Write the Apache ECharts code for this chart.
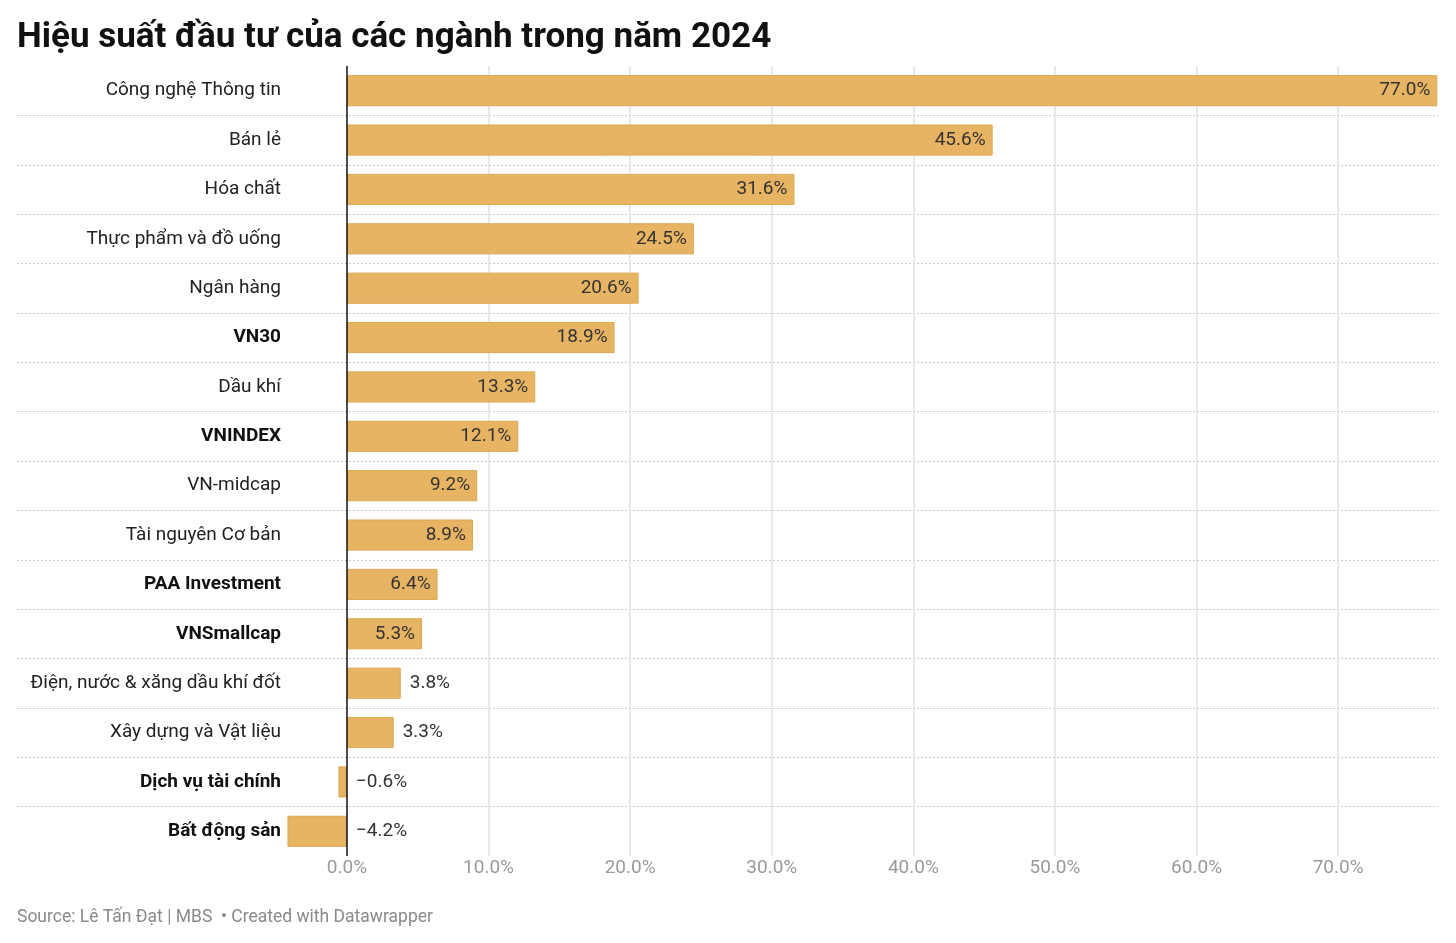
<!DOCTYPE html>
<html>
<head>
<meta charset="utf-8">
<script src="https://cdn.jsdelivr.net/npm/echarts@6/dist/echarts.min.js"></script>
<style>
  html, body { margin: 0; padding: 0; background: #fff; }
  #chart { width: 1456px; height: 943px; }
</style>
</head>
<body>
<div id="chart"></div>
<script>
// ngành / chỉ số
var categories = [
  'Công nghệ Thông tin',
  'Bán lẻ',
  'Hóa chất',
  'Thực phẩm và đồ uống',
  'Ngân hàng',
  'VN30',
  'Dầu khí',
  'VNINDEX',
  'VN-midcap',
  'Tài nguyên Cơ bản',
  'PAA Investment',
  'VNSmallcap',
  'Điện, nước & xăng dầu khí đốt',
  'Xây dựng và Vật liệu',
  'Dịch vụ tài chính',
  'Bất động sản'
];
// hiệu suất (%)
var values = [77.0, 45.6, 31.6, 24.5, 20.6, 18.9, 13.3, 12.1, 9.2, 8.9, 6.4, 5.3, 3.8, 3.3, -0.6, -4.2];
// nhãn in đậm
var boldCategories = ['VN30', 'VNINDEX', 'PAA Investment', 'VNSmallcap', 'Dịch vụ tài chính', 'Bất động sản'];
// vạch trục x
var xTicks = [0, 10, 20, 30, 40, 50, 60, 70];

var barColor = '#e6b462';
var font = 'Roboto';

function fmtPct(v) {
  var s = Math.abs(v).toFixed(1) + '%';
  return v < 0 ? '\u2212' + s : s;
}

var chart = echarts.init(document.getElementById('chart'), null, { renderer: 'canvas' });

var barData = values.map(function (v) {
  var inside = v >= 5;
  return {
    value: v,
    label: {
      position: inside ? 'insideRight' : 'right',
      distance: inside ? 7 : 9
    }
  };
});

var option = {
  backgroundColor: '#fff',
  animation: false,
  textStyle: { fontFamily: font },
  title: [
    {
      text: 'Hiệu suất đầu tư của các ngành trong năm 2024',
      left: 12,
      top: 16,
      textStyle: { fontFamily: font, fontSize: 35, fontWeight: 'bold', color: '#111' }
    },
    {
      text: 'Source: Lê Tấn Đạt | MBS  • Created with Datawrapper',
      left: 12,
      top: 904,
      textStyle: { fontFamily: font, fontSize: 17.5, fontWeight: 'normal', color: '#8a8a8a' }
    }
  ],
  grid: { left: 17, right: 18, top: 66, bottom: 87, containLabel: false },
  xAxis: {
    type: 'value',
    min: -23.3,
    max: 77.05,
    axisLine: { show: false },
    axisTick: { show: false },
    splitLine: { show: false },
    axisLabel: {
      customValues: xTicks,
      formatter: function (v) { return v.toFixed(1) + '%'; },
      color: '#9a9a9a',
      fontSize: 19,
      fontFamily: font,
      margin: 3
    }
  },
  yAxis: {
    type: 'category',
    inverse: true,
    data: categories,
    axisLine: { show: false },
    axisTick: { show: false },
    splitLine: {
      show: true,
      showMinLine: false,
      showMaxLine: false,
      lineStyle: { color: '#c8c8c8', type: [2, 2], width: 1 }
    },
    axisLabel: {
      inside: true,
      align: 'right',
      margin: 264,
      fontSize: 19,
      fontFamily: font,
      color: '#222',
      formatter: function (v) {
        return boldCategories.indexOf(v) >= 0 ? '{b|' + v + '}' : v;
      },
      rich: {
        b: { fontWeight: 'bold', fontSize: 19, fontFamily: font, color: '#111' }
      }
    }
  },
  series: [
    {
      // lưới dọc
      type: 'bar',
      data: [],
      z: 0,
      silent: true,
      markLine: {
        silent: true,
        symbol: 'none',
        z: 0,
        label: { show: false },
        lineStyle: { color: '#e2e2e2', type: 'solid', width: 1.5 },
        data: xTicks.filter(function (t) { return t > 0; }).map(function (t) { return { xAxis: t }; })
      }
    },
    {
      type: 'bar',
      data: barData,
      barWidth: '63%',
      barGap: '-100%',
      z: 2,
      itemStyle: { color: barColor, borderColor: '#dca750', borderWidth: 1 },
      label: {
        show: true,
        fontSize: 19,
        fontFamily: font,
        color: '#333',
        formatter: function (p) { return fmtPct(p.value); }
      },
      markLine: {
        silent: true,
        symbol: 'none',
        z: 5,
        label: { show: false },
        lineStyle: { color: '#111', type: 'solid', width: 1.5 },
        data: [{ xAxis: 0 }]
      }
    }
  ]
};

chart.setOption(option);
</script>
</body>
</html>
